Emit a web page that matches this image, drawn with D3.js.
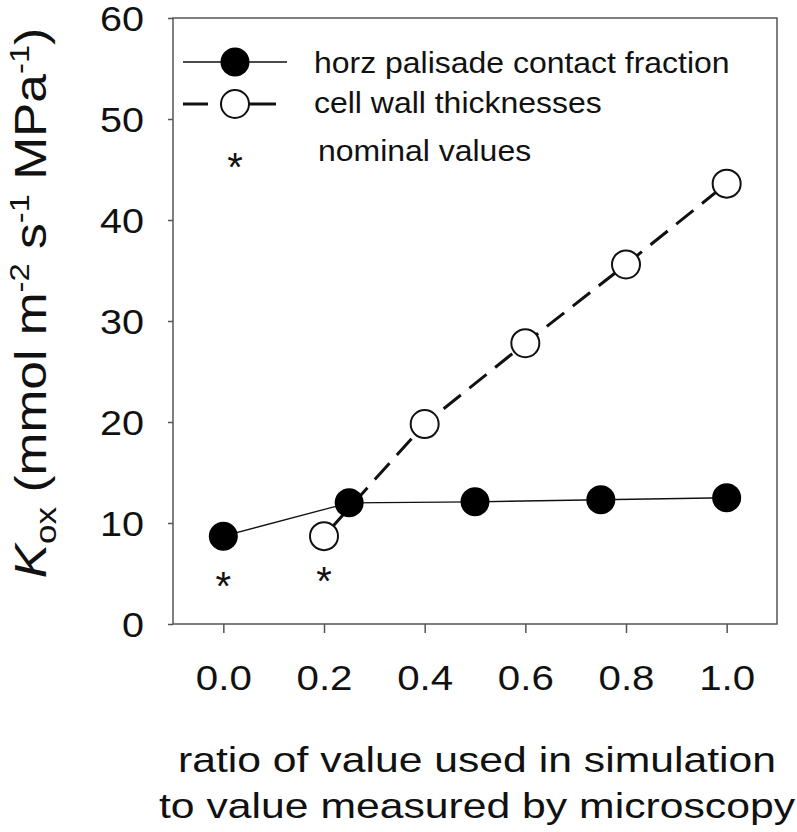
<!DOCTYPE html>
<html><head><meta charset="utf-8">
<script src="https://cdn.jsdelivr.net/npm/d3@7"></script>
<style>
body{margin:0;background:#fff;}
text{font-family:"Liberation Sans",Arial,sans-serif;fill:#111;}
</style></head>
<body><svg id="c" width="797" height="832"></svg>
<script>
// data
const palisadeX = [0, 0.25, 0.5, 0.75, 1.0];
const palisadeY = [8.7, 12.0, 12.1, 12.3, 12.5];
const wallX = [0.2, 0.4, 0.6, 0.8, 1.0];
const wallY = [8.7, 19.8, 27.8, 35.6, 43.6];
const nominalX = [0, 0.2];
const nominalY = [4.7, 5.2];
const xTicks = [0.0, 0.2, 0.4, 0.6, 0.8, 1.0];
const yTicks = [0, 10, 20, 30, 40, 50, 60];
const legendLabels = ["horz palisade contact fraction", "cell wall thicknesses", "nominal values"];
const xTitle = ["ratio of value used in simulation", "to value measured by microscopy"];

const svg = d3.select("#c");
const L = 173, R = 777, T = 18, B = 624;
const x = d3.scaleLinear().domain([-0.1, 1.1]).range([L, R]);
const y = d3.scaleLinear().domain([0, 60]).range([B, T]);
const axisCol = "#555";

function stretch(sel, f) {
  sel.each(function () {
    const w = this.getComputedTextLength();
    d3.select(this).attr("textLength", w * f).attr("lengthAdjust", "spacingAndGlyphs");
  });
}

// frame
svg.append("rect").attr("x", L).attr("y", T).attr("width", R - L).attr("height", B - T)
  .attr("fill", "none").attr("stroke", axisCol).attr("stroke-width", 1.5);

// axes
const yAx = svg.append("g").attr("transform", `translate(${L},0)`)
  .call(d3.axisLeft(y).tickValues(yTicks).tickSize(5).tickPadding(24).tickFormat(d3.format("d")));
const xAx = svg.append("g").attr("transform", `translate(0,${B})`)
  .call(d3.axisBottom(x).tickValues(xTicks).tickSize(9).tickPadding(32).tickFormat(d3.format(".1f")));
[yAx, xAx].forEach(g => {
  g.select(".domain").remove();
  g.selectAll("line").attr("stroke", axisCol).attr("stroke-width", 1.5);
  g.selectAll("text").attr("font-size", 35).attr("font-family", "Liberation Sans, Arial, sans-serif").attr("fill", "#111");
});
yAx.selectAll("text").attr("dy", "0.37em");
stretch(yAx.selectAll("text"), 1.13);
stretch(xAx.selectAll("text"), 1.15);

// lines
const pal = palisadeX.map((v, i) => [v, palisadeY[i]]);
const wal = wallX.map((v, i) => [v, wallY[i]]);
const line = d3.line().x(d => x(d[0])).y(d => y(d[1]));
svg.append("path").attr("d", line(pal)).attr("fill", "none").attr("stroke", "#111").attr("stroke-width", 1.3);
svg.append("path").attr("d", line(wal)).attr("fill", "none").attr("stroke", "#111").attr("stroke-width", 3)
  .attr("stroke-dasharray", "22,11").attr("stroke-dashoffset", -10);

svg.selectAll(".pw").data(wal).enter().append("circle")
  .attr("cx", d => x(d[0])).attr("cy", d => y(d[1])).attr("r", 14)
  .attr("fill", "#fff").attr("stroke", "#111").attr("stroke-width", 2);
svg.selectAll(".pp").data(pal).enter().append("circle")
  .attr("cx", d => x(d[0])).attr("cy", d => y(d[1])).attr("r", 14.5)
  .attr("fill", "#000");

// nominal asterisks
svg.selectAll(".ast").data(nominalX.map((v, i) => [v, nominalY[i]])).enter().append("text")
  .attr("x", d => x(d[0])).attr("y", d => y(d[1])).attr("dy", "0.58em")
  .attr("text-anchor", "middle").attr("font-size", 40).text("*");

// legend
const lg = svg.append("g");
lg.append("line").attr("x1", 183).attr("x2", 287).attr("y1", 62).attr("y2", 62).attr("stroke", "#111").attr("stroke-width", 1.3);
lg.append("circle").attr("cx", 235).attr("cy", 62).attr("r", 14.5).attr("fill", "#000");
lg.append("line").attr("x1", 183).attr("x2", 208).attr("y1", 104).attr("y2", 104).attr("stroke", "#111").attr("stroke-width", 3);
lg.append("line").attr("x1", 220).attr("x2", 276).attr("y1", 104).attr("y2", 104).attr("stroke", "#111").attr("stroke-width", 3);
lg.append("circle").attr("cx", 235).attr("cy", 104).attr("r", 14).attr("fill", "#fff").attr("stroke", "#111").attr("stroke-width", 2);
lg.append("text").attr("x", 235).attr("y", 158).attr("dy", "0.58em").attr("text-anchor", "middle").attr("font-size", 40).text("*");
const ly = [73, 113, 161];
const lx = [314, 314, 318];
legendLabels.forEach((t, i) => {
  const tx = lg.append("text").attr("x", lx[i]).attr("y", ly[i]).attr("font-size", 30).text(t);
  stretch(tx, 1.065);
});

// x title
const xl = [772, 818];
xTitle.forEach((t, i) => {
  const tx = svg.append("text").attr("x", 477).attr("y", xl[i]).attr("text-anchor", "middle")
    .attr("font-size", 35).text(t);
  stretch(tx, 1.22);
});

// y title
const yt = svg.append("text").attr("transform", "translate(46,303) rotate(-90) scale(1.17,1)")
  .attr("text-anchor", "middle").attr("font-size", 44);
yt.append("tspan").attr("font-style", "italic").text("K");
yt.append("tspan").attr("font-size", 30).attr("dy", 10).text("ox");
yt.append("tspan").attr("dy", -10).text(" (mmol m");
yt.append("tspan").attr("font-size", 28).attr("dy", -17).text("-2");
yt.append("tspan").attr("dy", 17).text(" s");
yt.append("tspan").attr("font-size", 28).attr("dy", -17).text("-1");
yt.append("tspan").attr("dy", 17).text(" MPa");
yt.append("tspan").attr("font-size", 28).attr("dy", -17).text("-1");
yt.append("tspan").attr("dy", 17).text(")");
</script></body></html>
